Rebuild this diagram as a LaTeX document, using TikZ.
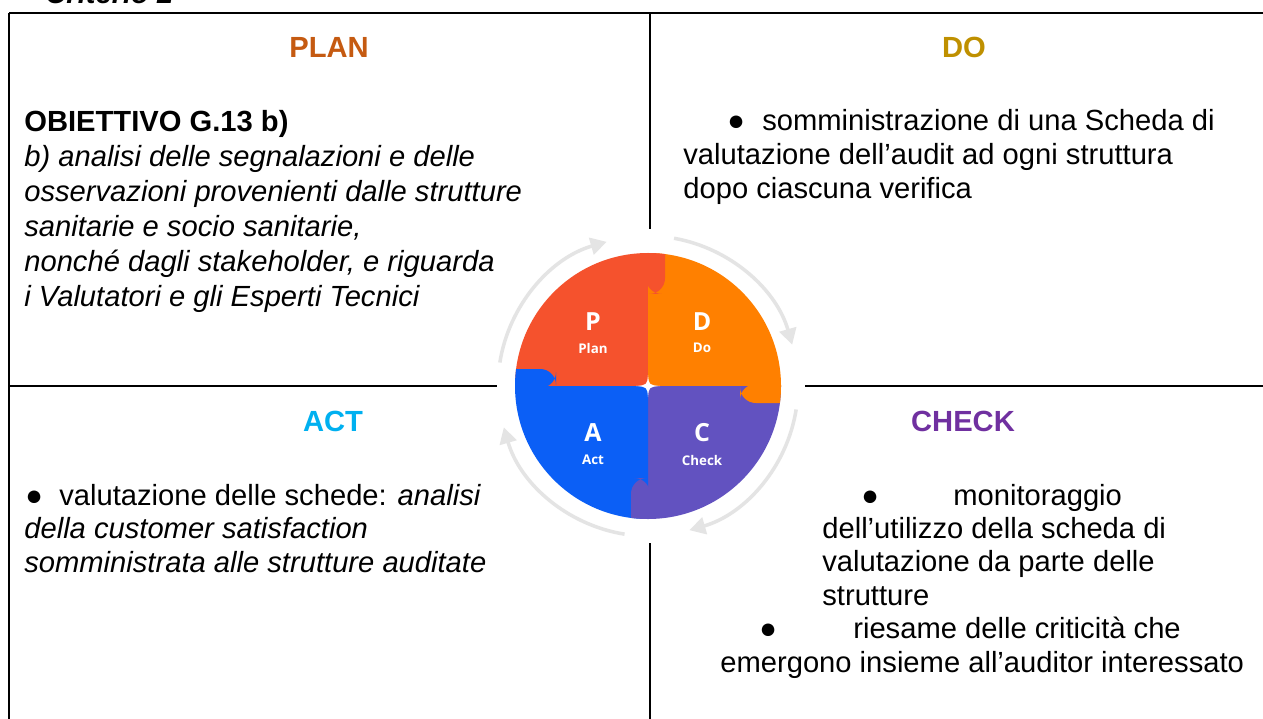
\documentclass[tikz,border=0pt]{standalone}
\usepackage{fontspec}
\setmainfont{Liberation Sans}
\newfontfamily\pdcafont{Open Sans}
\usetikzlibrary{arrows.meta}
\newdimen\pxu \pxu=0.5691pt
\newcommand\bulat[2]{\hspace*{#1\pxu}\rlap{●}\hspace*{#2\pxu}}
\definecolor{plancol}{HTML}{C55A11}
\definecolor{docol}{HTML}{BF9000}
\definecolor{actcol}{HTML}{00B0F0}
\definecolor{checkcol}{HTML}{7030A0}
\definecolor{pfill}{HTML}{F5522D}
\definecolor{dfill}{HTML}{FF8000}
\definecolor{cfill}{HTML}{6252C0}
\definecolor{afill}{HTML}{0B5FF6}
\definecolor{cyclegray}{HTML}{E4E4E4}
\tikzset{
grid line/.style=
    {line width=1.42pt,
    black
    },
quadtitle/.style=
    {font=\fontsize{16.6}{19.4}\selectfont\bfseries,
    anchor=base,
    inner sep=0pt
    },
quadtext/.style=
    {font=\fontsize{16.6}{19.6}\selectfont,
    align=left,
    anchor=base west,
    inner sep=0pt
    },
lowtext/.style=
    {quadtext,
    font=\fontsize{16.6}{19}\selectfont
    },
cycle arrow/.style=
    {draw=cyclegray,
    line width=2pt,
    -{Triangle[length=9.1pt,width=9.7pt]}
    },
pdcaletter/.style=
    {text=white,
    font=\pdcafont\bfseries\fontsize{14.2}{15}\selectfont,
    inner sep=0pt
    },
pdcaword/.style=
    {text=white,
    font=\pdcafont\bfseries\fontsize{7.6}{8}\selectfont,
    inner sep=0pt
    }}

\begin{document}
\begin{tikzpicture}[x=0.02cm,y=-0.02cm]
\useasboundingbox (0,0) rectangle (1263,719);

\node[quadtext,font=\fontsize{16.6}{19.4}\selectfont\bfseries\itshape] (crit) at (45,4) {Criterio 2};

\draw[grid line] (9,13) -- (1270,13);
\draw[grid line] (9,13) -- (9,725);
\draw[grid line] (650,13) -- (650,725);
\draw[grid line] (9,386) -- (1270,386);

\node[quadtitle,text=plancol] (plan) at (329,58) {PLAN};
\node[quadtitle,text=docol] (do) at (964,58) {DO};
\node[quadtitle,text=actcol] (act) at (333,431) {ACT};
\node[quadtitle,text=checkcol] (check) at (963,431) {CHECK};

% base anchor of these blocks sits on their last line
\node[quadtext,font=\fontsize{16.6}{19.9}\selectfont] (plantext) at (24,306) {\textbf{OBIETTIVO G.13 b)}\\
\textit{b) analisi delle segnalazioni e delle}\\
\textit{osservazioni provenienti dalle strutture}\\
\textit{sanitarie e socio sanitarie,}\\
\textit{nonché dagli stakeholder, e riguarda}\\
\textit{i Valutatori e gli Esperti Tecnici}};

\node[quadtext] (dotext) at (683,199) {\bulat{44}{35}somministrazione di una Scheda di\\
valutazione dell’audit ad ogni struttura\\
dopo ciascuna verifica};

\node[lowtext] (acttext) at (24,572) {\bulat{1}{34}valutazione delle schede: \textit{analisi}\\
\textit{della customer satisfaction}\\
\textit{somministrata alle strutture auditate}};

\node[lowtext] (checktext) at (720,672) {\bulat{141}{92}monitoraggio\\
\hspace*{102\pxu}dell’utilizzo della scheda di\\
\hspace*{102\pxu}valutazione da parte delle\\
\hspace*{102\pxu}strutture\\
\bulat{39}{94}riesame delle criticità che\\
emergono insieme all’auditor interessato};

\fill[white] (497,229) rectangle (805,543);

\begin{scope}[shift={(648,386)},y=0.02cm]
\fill[pfill] (0,0) -- (180:133) arc (180:90:133) -- cycle;
\fill[dfill] (0,0) -- (90:133) arc (90:0:133) -- cycle;
\fill[cfill] (0,0) -- (0:133) arc (0:-90:133) -- cycle;
\fill[afill] (0,0) -- (-90:133) arc (-90:-180:133) -- cycle;
\begin{scope}
\clip (0,0) circle (133);
\foreach \ang/\col in {0/pfill,-90/dfill,-180/cfill,90/afill}
  \fill[\col,rotate=\ang,rounded corners=9] (-2,92) rectangle (17,150);
\end{scope}
\fill[white] (0,11) .. controls (1,1) .. (12,0) .. controls (1,-1) .. (0,-11)
  .. controls (-1,-1) .. (-12,0) .. controls (-1,1) .. (0,11);

\draw[cycle arrow] (171:150) arc (171:106:150);
\draw[cycle arrow] (80:150) arc (80:16:150);
\draw[cycle arrow] (-9:150) arc (-9:-74:150);
\draw[cycle arrow] (-99:150) arc (-99:-164:150);

\node[pdcaletter] (pl) at (-55,64) {P};
\node[pdcaword] (plw) at (-55,38) {Plan};
\node[pdcaletter] (dl) at (54,64) {D};
\node[pdcaword] (dlw) at (54,38) {Do};
\node[pdcaletter] (al) at (-55,-47) {A};
\node[pdcaword] (alw) at (-55,-74) {Act};
\node[pdcaletter] (cl) at (54,-47) {C};
\node[pdcaword] (clw) at (54,-74) {Check};
\end{scope}

\end{tikzpicture}
\end{document}
